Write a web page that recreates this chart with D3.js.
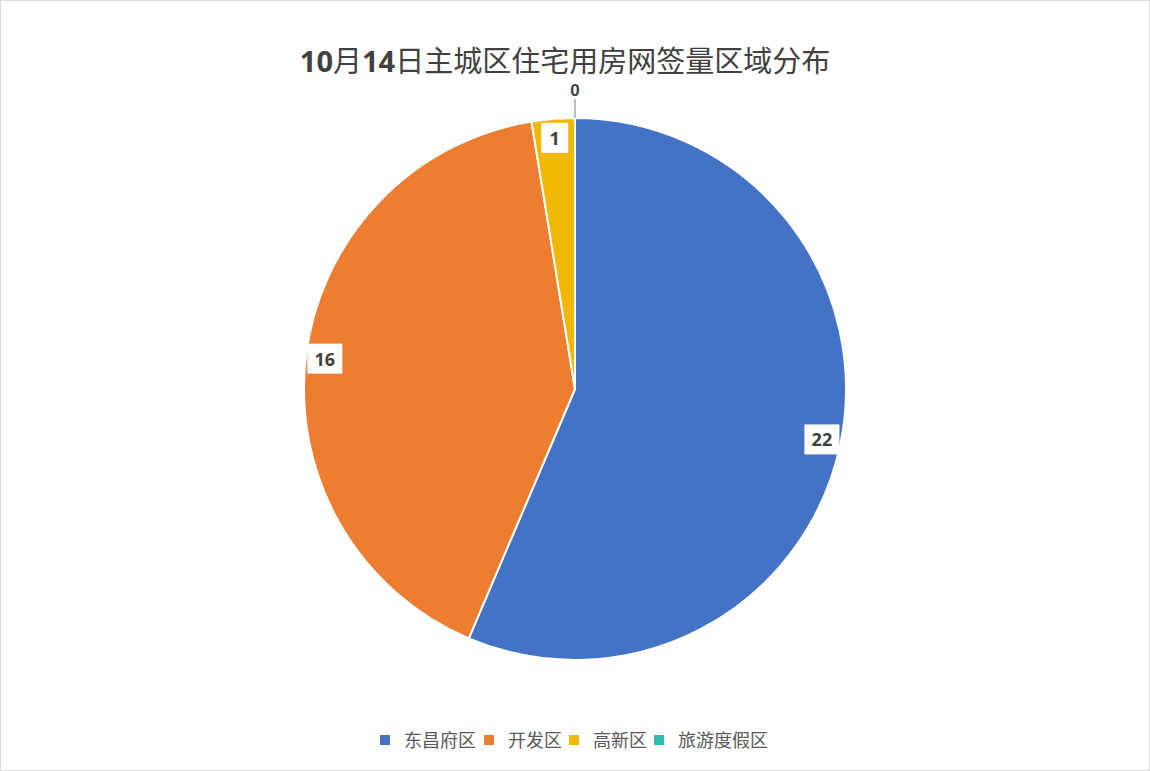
<!DOCTYPE html>
<html>
<head>
	<meta charset="utf-8">
	<title>10月14日主城区住宅用房网签量区域分布</title>
	<script src="https://d3js.org/d3.v7.min.js"></script>
	<style>
		body { margin: 0; background: #fff; }
		text { font-family: "Microsoft YaHei", "Noto Sans CJK SC", "Open Sans", sans-serif; }
	</style>
</head>
<body>
<svg width="1150" height="771"></svg>

<script type="text/javascript">
var width = 1150, height = 771;
var cx = 575, cy = 389, radius = 271;

var categories = ["东昌府区", "开发区", "高新区", "旅游度假区"];
var values = [22, 16, 1, 0];
var colors = ["#4472C4", "#ED7D31", "#F0B800", "#2DBDB0"];

var svg = d3.select('svg');

// frame
svg.append('rect')
	.attr('x', 0.5).attr('y', 0.5)
	.attr('width', width - 1).attr('height', height - 1)
	.attr('fill', '#fff')
	.attr('stroke', '#d9d9d9');

// title: numbers bold, hanzi regular
var title = svg.append('text')
	.attr('x', 565)
	.attr('y', 72)
	.attr('text-anchor', 'middle')
	.attr('fill', '#404040')
	.style('font-size', '29px');
[["10", true], ["月", false], ["14", true], ["日主城区住宅用房网签量区域分布", false]].forEach(function(p) {
	title.append('tspan')
		.attr('font-weight', p[1] ? 'bold' : 'normal')
		.attr('font-family', p[1] ? '"Open Sans", sans-serif' : '"Noto Sans CJK SC", sans-serif')
		.text(p[0]);
});

var data = categories.map(function(c, i) {
	return {name: c, value: values[i], color: colors[i]};
});

var pie = d3.pie()
	.sort(null)
	.value(function(d) { return d.value; });

var arc = d3.arc()
	.innerRadius(0)
	.outerRadius(radius);

var arcs = pie(data);

var g = svg.append('g')
	.attr('transform', 'translate(' + cx + ',' + cy + ')');

g.selectAll('path')
	.data(arcs)
	.enter()
	.append('path')
	.attr('d', arc)
	.attr('fill', function(d) { return d.data.color; })
	.attr('stroke', '#fff')
	.attr('stroke-width', 2);

// data labels
var labelArc = d3.arc().innerRadius(252).outerRadius(252);

arcs.forEach(function(d) {
	if (d.data.value === 0) {
		// zero slice: label outside with a leader line
		var a = d.startAngle;
		var x = Math.sin(a), y = -Math.cos(a);
		g.append('line')
			.attr('x1', x * radius).attr('y1', y * radius)
			.attr('x2', x * (radius + 19)).attr('y2', y * (radius + 19))
			.attr('stroke', '#a6a6a6')
			.attr('stroke-width', 1.5);
		g.append('text')
			.attr('x', x * (radius + 22))
			.attr('y', y * (radius + 22))
			.attr('text-anchor', 'middle')
			.attr('fill', '#404040')
			.style('font-size', '17px')
			.style('font-weight', 'bold')
			.style('font-family', '"Liberation Sans", sans-serif')
			.text(d.data.value);
		return;
	}
	var c = labelArc.centroid(d);
	var w = String(d.data.value).length > 1 ? 35 : 27;
	g.append('rect')
		.attr('x', c[0] - w / 2)
		.attr('y', c[1] - 15)
		.attr('width', w)
		.attr('height', 30)
		.attr('fill', '#fff');
	g.append('text')
		.attr('x', c[0])
		.attr('y', c[1] + 7)
		.attr('text-anchor', 'middle')
		.attr('fill', '#404040')
		.style('font-size', '18px')
		.style('font-weight', 'bold')
		.style('font-family', '"Open Sans", sans-serif')
		.text(d.data.value);
});

// legend
var legendX = [380, 484, 569, 654];
var legend = svg.selectAll('g.legend')
	.data(data)
	.enter()
	.append('g')
	.attr('class', 'legend')
	.attr('transform', function(d, i) { return 'translate(' + legendX[i] + ',740)'; });

legend.append('rect')
	.attr('x', 0).attr('y', -5)
	.attr('width', 10).attr('height', 10)
	.attr('fill', function(d) { return d.color; });

legend.append('text')
	.attr('x', 24)
	.attr('y', 7)
	.attr('fill', '#595959')
	.style('font-size', '18px')
	.style('font-family', '"Noto Sans CJK SC", sans-serif')
	.text(function(d) { return d.name; });
</script>

</body>
</html>
